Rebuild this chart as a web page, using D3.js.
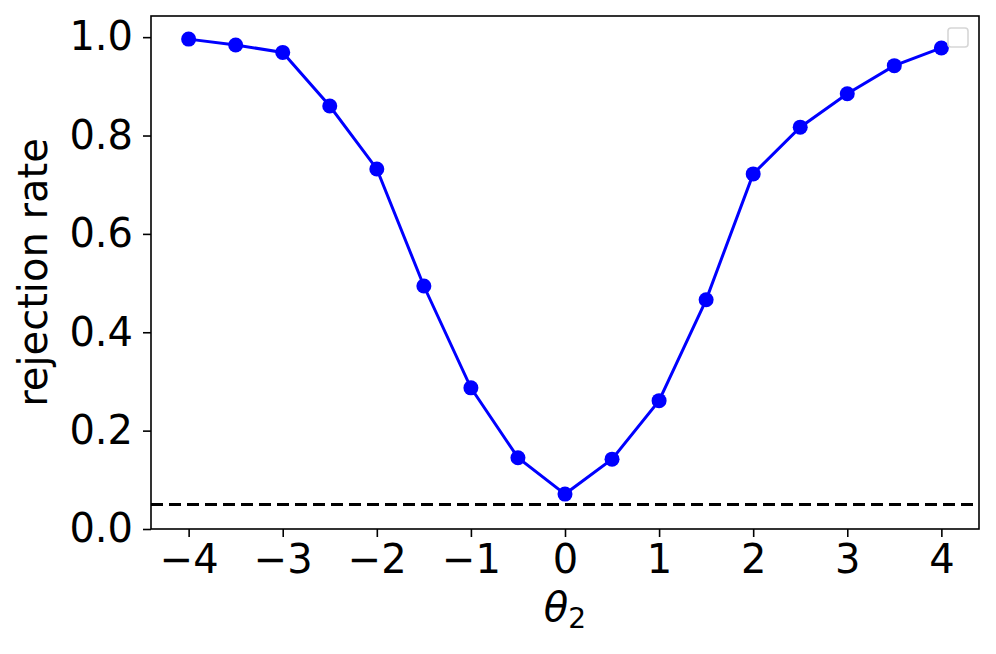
<!DOCTYPE html>
<html>
<head>
<meta charset="utf-8">
<script src="https://cdn.jsdelivr.net/npm/d3@7"></script>
<style>
  body { margin: 0; background: #fff; }
  text { font-family: "DejaVu Sans", sans-serif; fill: #000; }
</style>
</head>
<body>
<script>
// theta_2 values and rejection rates
const theta = [-4, -3.5, -3, -2.5, -2, -1.5, -1, -0.5, 0, 0.5, 1, 1.5, 2, 2.5, 3, 3.5, 4]
const rate  = [0.996, 0.984, 0.969, 0.860, 0.732, 0.494, 0.287, 0.145, 0.071,
               0.142, 0.261, 0.466, 0.722, 0.817, 0.885, 0.942, 0.978]
const alpha = 0.05
const xTicks = [-4, -3, -2, -1, 0, 1, 2, 3, 4]
const yTicks = [0.0, 0.2, 0.4, 0.6, 0.8, 1.0]

const W = 996, H = 654
const margin = {top: 16, right: 17, bottom: 125, left: 151}
const width = W - margin.left - margin.right,
      height = H - margin.top - margin.bottom

const svg = d3.select("body").append("svg")
    .attr("width", W)
    .attr("height", H)

const g = svg.append("g")
    .attr("transform", `translate(${margin.left}, ${margin.top})`)

const x = d3.scaleLinear().domain([-4.4, 4.4]).range([0, width])
const y = d3.scaleLinear().domain([0, 1.043]).range([height, 0])

const fmtX = d => (d < 0 ? "\u2212" + Math.abs(d) : "" + d)

// x axis
const xAxis = g.append("g")
    .attr("transform", `translate(0, ${height})`)
    .call(d3.axisBottom(x).tickValues(xTicks).tickFormat(fmtX).tickSize(8).tickPadding(8))
xAxis.select(".domain").remove()
xAxis.selectAll("line").attr("stroke", "#000").attr("stroke-width", 1.6)
xAxis.selectAll("text").attr("font-size", 40).attr("font-family", "DejaVu Sans").attr("fill", "#000")

// y axis
const yAxis = g.append("g")
    .call(d3.axisLeft(y).tickValues(yTicks).tickFormat(d3.format(".1f")).tickSize(8).tickPadding(10))
yAxis.select(".domain").remove()
yAxis.selectAll("line").attr("stroke", "#000").attr("stroke-width", 1.6)
yAxis.selectAll("text").attr("font-size", 40).attr("font-family", "DejaVu Sans").attr("fill", "#000")

// significance level
g.append("line")
    .attr("x1", 0).attr("x2", width)
    .attr("y1", y(alpha)).attr("y2", y(alpha))
    .attr("stroke", "#000")
    .attr("stroke-width", 3)
    .attr("stroke-dasharray", "12,6")

const pts = theta.map((t, i) => ({t: t, r: rate[i]}))

g.append("path")
    .datum(pts)
    .attr("fill", "none")
    .attr("stroke", "#0000ff")
    .attr("stroke-width", 3)
    .attr("d", d3.line().x(d => x(d.t)).y(d => y(d.r)))

g.selectAll("circle.pt")
    .data(pts)
    .enter()
    .append("circle")
    .attr("class", "pt")
    .attr("cx", d => x(d.t))
    .attr("cy", d => y(d.r))
    .attr("r", 7.5)
    .attr("fill", "#0000ff")

// frame
g.append("rect")
    .attr("width", width).attr("height", height)
    .attr("fill", "none")
    .attr("stroke", "#000")
    .attr("stroke-width", 1.6)

// empty legend box
g.append("rect")
    .attr("x", width - 31).attr("y", 12)
    .attr("width", 20).attr("height", 19)
    .attr("rx", 3)
    .attr("fill", "#fff")
    .attr("stroke", "#d6d6d6")
    .attr("stroke-width", 1.6)

// axis labels
svg.append("text")
    .attr("transform", `translate(47, ${margin.top + height / 2}) rotate(-90)`)
    .attr("text-anchor", "middle")
    .attr("font-size", 40)
    .text("rejection rate")

const xl = svg.append("text")
    .attr("x", margin.left + width / 2)
    .attr("y", 621)
    .attr("text-anchor", "middle")
    .attr("font-size", 40)
xl.append("tspan").attr("font-style", "italic").text("\u03b8")
xl.append("tspan").attr("font-size", 28).attr("dy", 7).text("2")
</script>
</body>
</html>
